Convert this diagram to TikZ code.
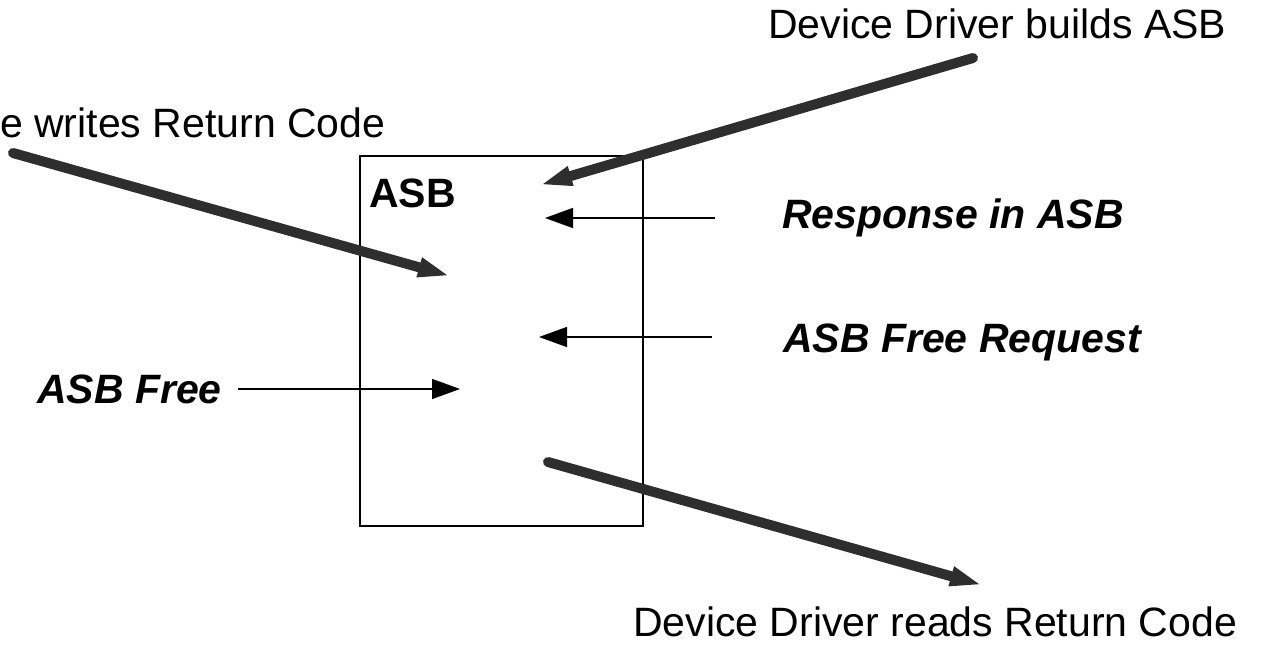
\documentclass[tikz,border=0pt]{standalone}
\usepackage{fontspec}
\setmainfont{Liberation Sans}
\usetikzlibrary{arrows.meta}
\tikzset{
  lbl/.style={font=\fontsize{41}{47}\selectfont, inner sep=0pt, anchor=base west},
  lblbi/.style={font=\fontsize{41}{47}\selectfont\bfseries\itshape, inner sep=0pt, anchor=base west},
  thick arrow/.style={line width=10pt, draw=black!82, line cap=round, -{Triangle[length=32pt,width=18pt]}},
  thin arrow/.style={line width=1.5pt, -{Triangle[length=28pt,width=20pt]}},
  boxstyle/.style={draw, line width=1.5pt, minimum width=283pt, minimum height=370pt, inner sep=0pt}
}
\begin{document}
\begin{tikzpicture}[x=1pt,y=-1pt]
\useasboundingbox (0,0) rectangle (1269,653);
% box
\node[boxstyle] (asb) at (501.5,341) {};
\node[font=\fontsize{41}{47}\selectfont\bfseries, inner sep=0pt, anchor=base west] (asblabel) at (369,207) {ASB};
% labels
\node[lbl] (builds) at (768,38) {Device Driver builds ASB};
\node[lbl] (writes) at (0,137) {e writes Return Code};
\node[lbl] (reads) at (633,636) {Device Driver reads Return Code};
\node[lblbi] (resp) at (782,228) {Response in ASB};
\node[lblbi] (freereq) at (783,352) {ASB Free Request};
\node[lblbi] (free) at (37,403) {ASB Free};
% coordinates
\coordinate (b1) at (973,58);
\coordinate (b2) at (540,185);
\coordinate (w1) at (13,153);
\coordinate (w2) at (450,276);
\coordinate (r1) at (548,462);
\coordinate (r2) at (982,585);
\coordinate (p1) at (715,218);
\coordinate (p2) at (545,218);
\coordinate (q1) at (712,337);
\coordinate (q2) at (539,337);
\coordinate (f1) at (238,389);
\coordinate (f2) at (460,389);
% arrows
\draw[thick arrow] (b1) -- (b2);
\draw[thick arrow] (w1) -- (w2);
\draw[thick arrow] (r1) -- (r2);
\draw[thin arrow] (p1) -- (p2);
\draw[thin arrow] (q1) -- (q2);
\draw[thin arrow] (f1) -- (f2);
\end{tikzpicture}
\end{document}
